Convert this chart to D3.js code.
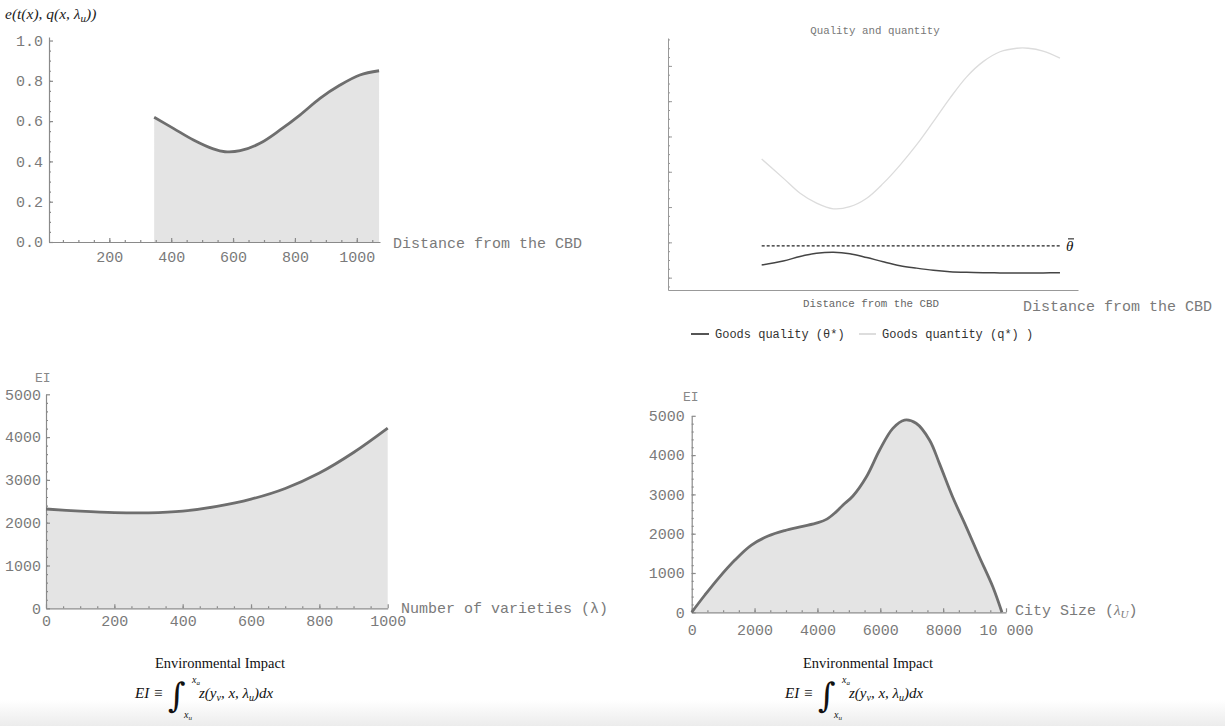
<!DOCTYPE html>
<html lang="en">
<head>
  <meta charset="UTF-8">
  <title>environmental impact</title>
  <script src="https://cdn.jsdelivr.net/npm/d3@7"></script>
  <style>
    body { margin: 0; background: #fff; }
    .mono { font-family: 'Liberation Mono', 'DejaVu Sans Mono', monospace; }
    .math { font-family: 'Liberation Serif', 'DejaVu Serif', serif; }
  </style>
</head>
<body>
<script>
  const width = 1225, height = 726

  // top left: e(t(x), q(x, λu)) against distance
  const distTL = [345, 407, 472, 536, 574, 623, 687, 752, 816, 881, 946, 1010, 1072]
  const effectTL = [0.619, 0.564, 0.506, 0.462, 0.448, 0.453, 0.490, 0.556, 0.630, 0.713, 0.779, 0.829, 0.850]

  // top right: quality and quantity
  const distTR = [239, 294, 337, 379, 422, 464, 507, 549, 592, 634, 677, 719, 762, 804, 847, 890, 919, 957, 1000]
  const quality = [0.36, 0.47, 0.60, 0.69, 0.72, 0.68, 0.57, 0.45, 0.34, 0.27, 0.21, 0.17, 0.15, 0.14, 0.135, 0.13, 0.13, 0.135, 0.14]
  const quantity = [3.36, 2.82, 2.39, 2.11, 1.95, 2.01, 2.25, 2.67, 3.19, 3.76, 4.42, 5.08, 5.69, 6.12, 6.40, 6.50, 6.50, 6.42, 6.22]
  const thetaBar = 0.90

  // bottom left: EI against number of varieties
  const varieties = [0, 100, 200, 300, 400, 500, 600, 700, 800, 900, 1000]
  const eiVarieties = [2320, 2270, 2235, 2230, 2270, 2380, 2550, 2800, 3160, 3640, 4210]

  // bottom right: EI against city size
  const citySize = [0, 420, 850, 1375, 1900, 2430, 2960, 3490, 4020, 4300, 4560, 4800, 5130, 5560, 5980, 6400, 6770, 7140, 7570, 7880, 8300, 8730, 9150, 9580, 9870]
  const eiCity = [0, 440, 865, 1330, 1710, 1940, 2080, 2180, 2280, 2370, 2530, 2720, 2960, 3450, 4130, 4680, 4890, 4810, 4380, 3790, 2940, 2180, 1415, 650, 0]

  const axisColor = '#8a8a8a', labelColor = '#7a7a7a'
  const smooth = d3.curveCatmullRom.alpha(0.5)

  const svg = d3.select('body').append('svg')
      .attr('width', width)
      .attr('height', height)

  const grad = svg.append('defs').append('linearGradient')
      .attr('id', 'shade').attr('x1', 0).attr('y1', 0).attr('x2', 0).attr('y2', 1)
  grad.append('stop').attr('offset', 0).attr('stop-color', '#fff')
  grad.append('stop').attr('offset', 1).attr('stop-color', '#ececec')
  svg.append('rect').attr('x', 0).attr('y', 700).attr('width', width).attr('height', 26).attr('fill', 'url(#shade)')

  function range(a, b, s) {
    return d3.range(a, b + s / 2, s)
  }

  function axes(x, y, o) {
    const g = svg.append('g')
    const y0 = y.range()[0], x0 = x.range()[0]
    const xa = g.append('g').attr('transform', `translate(0,${y0})`)
    if (o.xMinor) {
      xa.append('g').call(d3.axisBottom(x).tickValues(o.xMinor).tickSize(-2).tickSizeOuter(0).tickFormat(''))
          .select('.domain').remove()
    }
    if (o.xMajor) {
      xa.append('g').call(d3.axisBottom(x).tickValues(o.xMajor).tickSize(-4).tickSizeOuter(0)
          .tickPadding(o.xPad).tickFormat(o.xFmt || (d => d)))
    } else {
      xa.append('g').call(d3.axisBottom(x).tickValues([]).tickSizeOuter(0))
    }
    const ya = g.append('g').attr('transform', `translate(${x0},0)`)
    ya.append('g').call(d3.axisLeft(y).tickValues(o.yMinor).tickSize(-2).tickSizeOuter(0).tickFormat(''))
        .select('.domain').remove()
    ya.append('g').call(d3.axisLeft(y).tickValues(o.yMajor).tickSize(-4).tickSizeOuter(0)
        .tickPadding(o.yPad).tickFormat(o.yFmt || (d => d)))
    g.selectAll('.domain, line').attr('stroke', axisColor).attr('stroke-width', 1.2)
    g.selectAll('text').attr('fill', labelColor).attr('class', 'mono').attr('font-size', o.fs || 15)
        .attr('font-family', null)
    return g
  }

  function areaPlot(xs, ys, x, y) {
    const pts = xs.map((d, i) => [d, ys[i]])
    svg.append('path')
        .attr('fill', '#e4e4e4')
        .attr('d', d3.area().x(d => x(d[0])).y0(y(0)).y1(d => y(d[1])).curve(smooth)(pts))
    return pts
  }

  function linePlot(pts, x, y, color, w) {
    svg.append('path')
        .attr('fill', 'none')
        .attr('stroke', color)
        .attr('stroke-width', w)
        .attr('stroke-linejoin', 'round')
        .attr('d', d3.line().x(d => x(d[0])).y(d => y(d[1])).curve(smooth)(pts))
  }

  // ---------- top left ----------
  {
    const x = d3.scaleLinear().domain([5, 1075]).range([49, 380])
    const y = d3.scaleLinear().domain([0, 1.0175]).range([242, 37])
    const pts = areaPlot(distTL, effectTL, x, y)
    axes(x, y, {
      xMajor: [200, 400, 600, 800, 1000], xMinor: range(50, 1050, 50), xPad: 9,
      yMajor: range(0, 1, 0.2), yMinor: range(0.05, 0.95, 0.05), yPad: 6,
      yFmt: d3.format('.1f')
    })
    linePlot(pts, x, y, '#6e6e6e', 2.8)
    svg.append('text').attr('class', 'mono').attr('x', 393).attr('y', 248)
        .attr('font-size', 15).attr('fill', labelColor).text('Distance from the CBD')
    const t = svg.append('text').attr('class', 'math').attr('x', 5).attr('y', 19)
        .attr('font-size', 15.5).attr('font-style', 'italic').attr('fill', '#222')
    t.append('tspan').text('e(t(x), q(x, λ')
    t.append('tspan').attr('font-size', 11).attr('dy', 3).text('u')
    t.append('tspan').attr('dy', -3).text('))')
  }

  // ---------- top right ----------
  {
    const x = d3.scaleLinear().domain([0, 1046]).range([668, 1078])
    const y = d3.scaleLinear().domain([-0.35, 6.79]).range([290, 38])
    axes(x, y, {
      yMajor: range(0, 6, 1), yMinor: range(-0.25, 6.75, 0.25), yPad: 4, yFmt: () => ''
    }).selectAll('.domain, line').attr('stroke', '#999').attr('stroke-width', 1)

    linePlot(distTR.map((d, i) => [d, quantity[i]]), x, y, '#dcdcdc', 1.3)
    svg.append('line')
        .attr('x1', x(distTR[0])).attr('x2', x(distTR[distTR.length - 1]))
        .attr('y1', y(thetaBar)).attr('y2', y(thetaBar))
        .attr('stroke', '#222').attr('stroke-width', 1.2).attr('stroke-dasharray', '3,2')
    linePlot(distTR.map((d, i) => [d, quality[i]]), x, y, '#444', 1.5)

    svg.append('text').attr('class', 'math').attr('x', 1066).attr('y', y(thetaBar) + 5)
        .attr('font-size', 15).attr('font-style', 'italic').attr('fill', '#111').text('θ')
    svg.append('line').attr('x1', 1068).attr('x2', 1074).attr('y1', y(thetaBar) - 7).attr('y2', y(thetaBar) - 7)
        .attr('stroke', '#111').attr('stroke-width', 1)

    svg.append('text').attr('class', 'mono').attr('x', 875).attr('y', 34)
        .attr('text-anchor', 'middle').attr('font-size', 10.8).attr('fill', '#777').text('Quality and quantity')
    svg.append('text').attr('class', 'mono').attr('x', 871).attr('y', 307)
        .attr('text-anchor', 'middle').attr('font-size', 10.8).attr('fill', '#666').text('Distance from the CBD')
    svg.append('text').attr('class', 'mono').attr('x', 1023).attr('y', 311)
        .attr('font-size', 15).attr('fill', labelColor).text('Distance from the CBD')

    // legend
    const lg = svg.append('g').attr('class', 'mono').attr('font-size', 12).attr('fill', '#333')
    lg.append('line').attr('x1', 691).attr('x2', 709).attr('y1', 334).attr('y2', 334)
        .attr('stroke', '#555').attr('stroke-width', 2)
    lg.append('text').attr('x', 715).attr('y', 338).text('Goods quality (θ*)')
    lg.append('line').attr('x1', 859).attr('x2', 876).attr('y1', 334).attr('y2', 334)
        .attr('stroke', '#ddd').attr('stroke-width', 2)
    lg.append('text').attr('x', 882).attr('y', 338).text('Goods quantity (q*) )')
  }

  // ---------- bottom left ----------
  {
    const x = d3.scaleLinear().domain([0, 1000]).range([46, 387.7])
    const y = d3.scaleLinear().domain([0, 5000]).range([608.3, 394.3])
    const pts = areaPlot(varieties, eiVarieties, x, y)
    axes(x, y, {
      xMajor: range(0, 1000, 200), xMinor: range(50, 950, 50), xPad: 7,
      yMajor: range(0, 5000, 1000), yMinor: range(200, 4800, 200), yPad: 5
    })
    linePlot(pts, x, y, '#6e6e6e', 2.8)
    svg.append('text').attr('class', 'mono').attr('x', 401).attr('y', 613)
        .attr('font-size', 15).attr('fill', labelColor).text('Number of varieties (λ)')
    svg.append('text').attr('class', 'mono').attr('x', 35).attr('y', 382)
        .attr('font-size', 13).attr('fill', '#888').text('EI')
  }

  // ---------- bottom right ----------
  {
    const x = d3.scaleLinear().domain([0, 10000]).range([691.7, 1006])
    const y = d3.scaleLinear().domain([0, 5000]).range([612.3, 415.8])
    const pts = areaPlot(citySize, eiCity, x, y)
    axes(x, y, {
      xMajor: range(0, 10000, 2000), xMinor: range(500, 9500, 500), xPad: 12,
      xFmt: d => d === 10000 ? '10 000' : d,
      yMajor: range(0, 5000, 1000), yMinor: range(200, 4800, 200), yPad: 7
    })
    linePlot(pts, x, y, '#6e6e6e', 2.8)
    const t = svg.append('text').attr('x', 1015).attr('y', 615).attr('font-size', 15).attr('fill', labelColor)
    t.append('tspan').attr('class', 'mono').text('City Size (')
    t.append('tspan').attr('class', 'math').attr('font-style', 'italic').text('λ')
    t.append('tspan').attr('class', 'math').attr('font-style', 'italic').attr('font-size', 11).attr('dy', 3).text('U')
    t.append('tspan').attr('class', 'mono').attr('dy', -3).text(')')
    svg.append('text').attr('class', 'mono').attr('x', 683).attr('y', 401)
        .attr('font-size', 13).attr('fill', '#888').text('EI')
  }

  // ---------- captions ----------
  function caption(cx, fx) {
    const g = svg.append('g').attr('class', 'math').attr('fill', '#111')
    g.append('text').attr('x', cx).attr('y', 668).attr('text-anchor', 'middle')
        .attr('font-size', 14.5).text('Environmental Impact')
    g.append('text').attr('x', fx).attr('y', 698).attr('font-size', 15).attr('font-style', 'italic').text('EI ≡')
    g.append('text').attr('x', fx + 33).attr('y', 707).attr('font-size', 34)
        .attr('font-family', 'DejaVu Serif').text('∫')
    const up = g.append('text').attr('x', fx + 57).attr('y', 683).attr('font-size', 10).attr('font-style', 'italic')
    up.append('tspan').text('x')
    up.append('tspan').attr('font-size', 7).attr('dy', 2).text('a')
    const lo = g.append('text').attr('x', fx + 49).attr('y', 718).attr('font-size', 10).attr('font-style', 'italic')
    lo.append('tspan').text('x')
    lo.append('tspan').attr('font-size', 7).attr('dy', 2).text('u')
    const t = g.append('text').attr('x', fx + 64).attr('y', 698).attr('font-size', 15).attr('font-style', 'italic')
    t.append('tspan').text('z(y')
    t.append('tspan').attr('font-size', 10).attr('dy', 3).text('v')
    t.append('tspan').attr('dy', -3).text(', x, λ')
    t.append('tspan').attr('font-size', 10).attr('dy', 3).text('u')
    t.append('tspan').attr('dy', -3).text(')dx')
  }
  caption(220, 135)
  caption(868, 785)
</script>
</body>
</html>
